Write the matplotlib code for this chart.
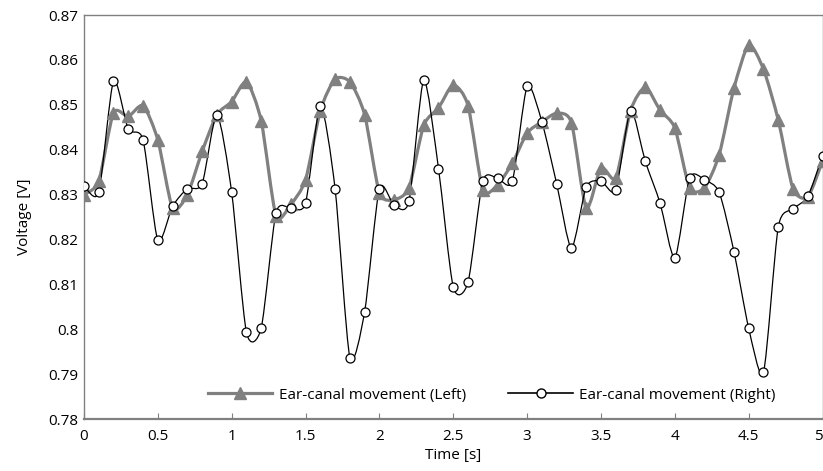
import numpy as np
import matplotlib
matplotlib.use("Agg")
import matplotlib.pyplot as plt
from matplotlib.path import Path
from matplotlib.patches import PathPatch
from matplotlib.lines import Line2D
import matplotlib.ticker as tkr

plt.rcParams['font.family'] = ['Open Sans', 'DejaVu Sans']
fs = 11

# sample times (0.1 s steps)
time_s = np.round(np.arange(51) * 0.1, 1)

left_v = [0.8300, 0.8330, 0.8482, 0.8474, 0.8498, 0.8422, 0.8270, 0.8300, 0.8396, 0.8478,
          0.8507, 0.8551, 0.8464, 0.8253, 0.8278, 0.8333, 0.8487, 0.8557, 0.8551, 0.8478,
          0.8304, 0.8289, 0.8315, 0.8454, 0.8493, 0.8544, 0.8498, 0.8311, 0.8322, 0.8370,
          0.8437, 0.8462, 0.8481, 0.8460, 0.8270, 0.8360, 0.8337, 0.8487, 0.8539, 0.8488,
          0.8448, 0.8315, 0.8315, 0.8389, 0.8537, 0.8633, 0.8579, 0.8466, 0.8313, 0.8295,
          0.8375]

right_v = [0.8320, 0.8305, 0.8553, 0.8446, 0.8422, 0.8198, 0.8274, 0.8313, 0.8324, 0.8478,
           0.8305, 0.7993, 0.8003, 0.8259, 0.8270, 0.8281, 0.8498, 0.8313, 0.7937, 0.8039,
           0.8313, 0.8276, 0.8285, 0.8555, 0.8358, 0.8094, 0.8105, 0.8330, 0.8336, 0.8330,
           0.8541, 0.8462, 0.8324, 0.8181, 0.8317, 0.8330, 0.8310, 0.8487, 0.8374, 0.8281,
           0.8159, 0.8337, 0.8333, 0.8305, 0.8173, 0.8002, 0.7904, 0.8228, 0.8268, 0.8296,
           0.8387]

labels = ['Ear-canal movement (Left)', 'Ear-canal movement (Right)']
grey = '#808080'


def smooth_path(x, y, k=0.12):
    # Excel-style smoothed line: cubic bezier through every point
    p = np.column_stack([x, y])
    p = np.vstack([p[0], p, p[-1]])
    verts = [p[1]]
    codes = [Path.MOVETO]
    for i in range(1, len(p) - 2):
        c1 = p[i] + (p[i + 1] - p[i - 1]) * k
        c2 = p[i + 1] - (p[i + 2] - p[i]) * k
        verts += [c1, c2, p[i + 1]]
        codes += [Path.CURVE4] * 3
    return Path(verts, codes)


fig = plt.figure(figsize=(8.23, 4.71), dpi=100)
ax = fig.add_axes([0.102, 0.1104, 0.8975, 0.8577])

ax.add_patch(PathPatch(smooth_path(time_s, left_v), fill=False, edgecolor=grey, lw=2.3, zorder=2))
ax.add_patch(PathPatch(smooth_path(time_s, right_v), fill=False, edgecolor='black', lw=0.9, zorder=3))
ax.plot(time_s, left_v, ls='none', marker='^', ms=8, color=grey, zorder=4)
ax.plot(time_s, right_v, ls='none', marker='o', ms=6.5, mfc='white', mec='black', mew=0.9, zorder=5)

ax.set_xlim(0, 5)
ax.set_ylim(0.78, 0.87)
ax.set_xticks(np.arange(0, 5.01, 0.5))
ax.set_yticks(np.arange(0.78, 0.8701, 0.01))
fmt = tkr.FuncFormatter(lambda v, pos: '{:g}'.format(round(v, 3)))
ax.xaxis.set_major_formatter(fmt)
ax.yaxis.set_major_formatter(fmt)
ax.tick_params(axis='x', direction='in', length=4, color=grey, labelsize=fs, pad=7)
ax.tick_params(axis='y', length=0, labelsize=fs, pad=4)
ax.get_xticklabels()[-1].set_horizontalalignment('right')
for s in ax.spines.values():
    s.set_color(grey)
    s.set_linewidth(1)
ax.spines['bottom'].set_linewidth(1.6)

ax.set_xlabel('Time [s]', fontsize=fs, labelpad=3)
ax.set_ylabel('Voltage [V]', fontsize=fs, labelpad=12)

handles = [Line2D([], [], color=grey, lw=2.3, marker='^', ms=8),
           Line2D([], [], color='black', lw=1.2, marker='o', ms=6.5, mfc='white', mec='black')]
ax.legend(handles, labels, loc='center', bbox_to_anchor=(0.552, 0.059), ncol=2, frameon=False,
          fontsize=fs, handlelength=4.2, columnspacing=2.8, handletextpad=0.4)

plt.savefig('out.png', dpi=100)
